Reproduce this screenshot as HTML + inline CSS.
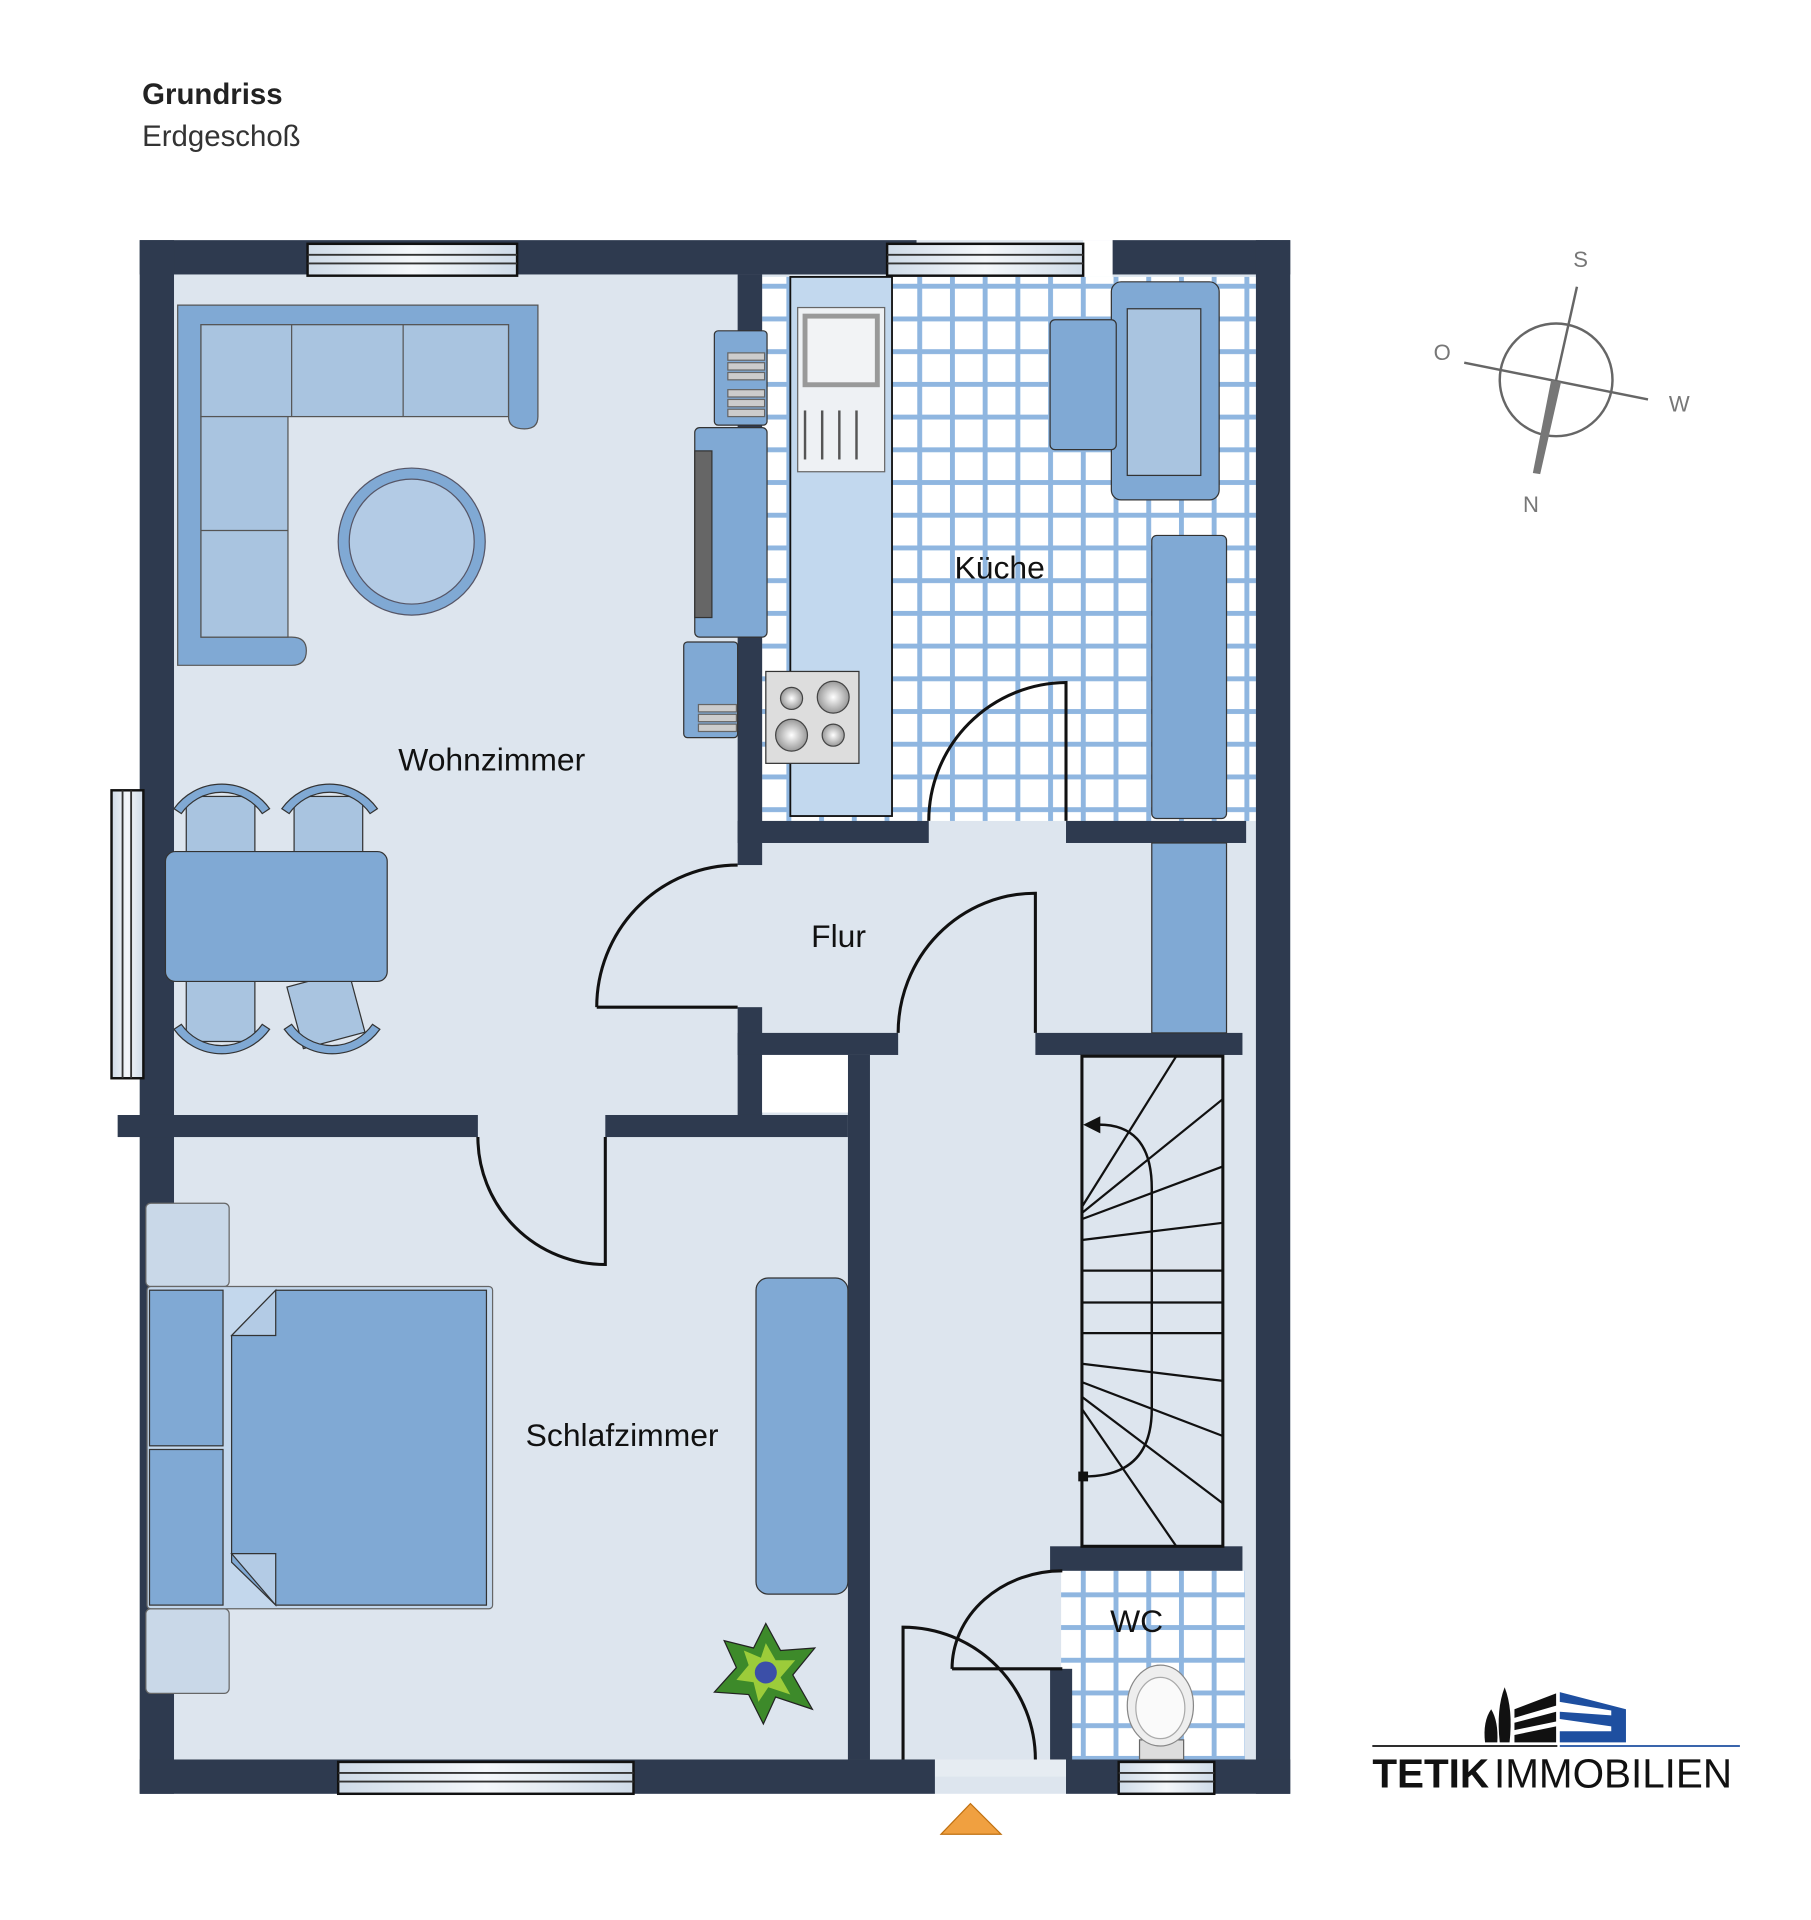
<!DOCTYPE html>
<html><head><meta charset="utf-8"><style>
html,body{margin:0;padding:0;background:#fff;}
svg{display:block;}
text{font-family:"Liberation Sans",sans-serif;}
</style></head><body>
<svg width="1811" height="1920" viewBox="0 0 1478 1567" xmlns="http://www.w3.org/2000/svg">
<defs>
<pattern id="tile" x="1" y="18" width="26.7" height="26.7" patternUnits="userSpaceOnUse">
<rect width="26.7" height="26.7" fill="#fff"/>
<rect x="0" y="0" width="4" height="26.7" fill="#8fb6e0"/>
<rect x="0" y="0" width="26.7" height="4" fill="#8fb6e0"/>
</pattern>
<linearGradient id="win" x1="0" y1="0" x2="1" y2="0"><stop offset="0" stop-color="#cfdbe8"/><stop offset="0.5" stop-color="#f4f7fa"/><stop offset="1" stop-color="#cfdbe8"/></linearGradient>
<radialGradient id="hob"><stop offset="0" stop-color="#fff"/><stop offset="1" stop-color="#999"/></radialGradient>
</defs>
<text x="116" y="85" font-size="24" font-weight="bold" fill="#222">Grundriss</text>
<text x="116" y="119" font-size="24" fill="#333">Erdgeschoß</text>

<rect x="114" y="196" width="939" height="1268" fill="#dde5ee"/>
<rect x="622" y="226" width="403" height="444" fill="url(#tile)"/>
<rect x="866" y="1282" width="150" height="154" fill="url(#tile)"/>
<rect x="763" y="1436" width="107" height="14" fill="#e6ecf2"/>

<g fill="#2e3a4f">
<rect x="114" y="196" width="634" height="28"/>
<rect x="908" y="196" width="145" height="28"/>
<rect x="114" y="196" width="28" height="1268"/>
<rect x="1025" y="196" width="28" height="1268"/>
<rect x="114" y="1436" width="649" height="28"/>
<rect x="870" y="1436" width="183" height="28"/>
<rect x="602" y="224" width="20" height="482"/>
<rect x="602" y="822" width="20" height="88"/>
<rect x="602" y="670" width="156" height="18"/>
<rect x="870" y="670" width="147" height="18"/>
<rect x="602" y="843" width="131" height="18"/>
<rect x="845" y="843" width="169" height="18"/>
<rect x="692" y="861" width="18" height="575"/>
<rect x="96" y="910" width="294" height="18"/>
<rect x="494" y="910" width="198" height="18"/>
<rect x="857" y="1262" width="157" height="20"/>
<rect x="857" y="1362" width="18" height="74"/>
</g>
<rect x="622" y="861" width="70" height="47" fill="#fff"/>
<rect x="884" y="196" width="24" height="30" fill="#fff"/>

<g stroke="#111" stroke-width="2" fill="url(#win)">
<rect x="251" y="199" width="171" height="26"/>
<rect x="724" y="199" width="160" height="26"/>
<rect x="91" y="645" width="26" height="235"/>
<rect x="276" y="1438" width="241" height="26"/>
<rect x="913" y="1438" width="78" height="26"/>
</g>
<g stroke="#333" stroke-width="1.5">
<line x1="251" y1="208" x2="422" y2="208"/><line x1="251" y1="215" x2="422" y2="215"/>
<line x1="724" y1="208" x2="884" y2="208"/><line x1="724" y1="215" x2="884" y2="215"/>
<line x1="100" y1="645" x2="100" y2="880"/><line x1="107" y1="645" x2="107" y2="880"/>
<line x1="276" y1="1447" x2="517" y2="1447"/><line x1="276" y1="1454" x2="517" y2="1454"/>
<line x1="913" y1="1447" x2="991" y2="1447"/><line x1="913" y1="1454" x2="991" y2="1454"/>
</g>

<g stroke="#555" stroke-width="1">
<path d="M145 249 H439 V340 Q439 350 428 350 Q415 350 415 340 V265 H164 V520 H238 Q250 520 250 531 Q250 543 238 543 H145 Z" fill="#80a9d4"/>
<rect x="164" y="265" width="251" height="75" fill="#a9c4e0"/>
<rect x="164" y="340" width="71" height="180" fill="#a9c4e0"/>
<line x1="238" y1="265" x2="238" y2="340"/><line x1="329" y1="265" x2="329" y2="340"/>
<line x1="164" y1="433" x2="235" y2="433"/>
</g>
<circle cx="336" cy="442" r="60" fill="#80a9d4" stroke="#556" stroke-width="1"/>
<circle cx="336" cy="442" r="51" fill="#b3cbe5" stroke="#556" stroke-width="1"/>

<g stroke="#333" stroke-width="1">
<rect x="152" y="650" width="56" height="48" fill="#a9c4e0"/>
<rect x="240" y="650" width="56" height="48" fill="#a9c4e0"/>
<rect x="152" y="798" width="56" height="52" fill="#a9c4e0"/>
<rect x="240" y="798" width="52" height="52" fill="#a9c4e0" transform="rotate(-15 266 824)"/>
<path d="M142 660 A48 48 0 0 1 220 660 L214 664 A40 40 0 0 0 148 664 Z" fill="#80a9d4"/>
<path d="M230 660 A48 48 0 0 1 308 660 L302 664 A40 40 0 0 0 236 664 Z" fill="#80a9d4"/>
<path d="M142 840 A48 48 0 0 0 220 840 L214 836 A40 40 0 0 1 148 836 Z" fill="#80a9d4"/>
<path d="M232 840 A48 48 0 0 0 310 840 L304 836 A40 40 0 0 1 238 836 Z" fill="#80a9d4"/>
<rect x="135" y="695" width="181" height="106" rx="8" fill="#80a9d4"/>
</g>

<g stroke="#333" stroke-width="1">
<rect x="583" y="270" width="43" height="77" rx="3" fill="#80a9d4"/>
<rect x="567" y="349" width="59" height="171" rx="4" fill="#80a9d4"/>
<rect x="567" y="368" width="14" height="136" fill="#666"/>
<rect x="558" y="524" width="44" height="78" rx="3" fill="#80a9d4"/>
</g>
<g fill="#ccc" stroke="#666" stroke-width="1">
<rect x="594" y="288" width="30" height="6"/><rect x="594" y="296" width="30" height="6"/><rect x="594" y="304" width="30" height="6"/>
<rect x="594" y="318" width="30" height="6"/><rect x="594" y="326" width="30" height="6"/><rect x="594" y="334" width="30" height="6"/>
<rect x="570" y="575" width="31" height="6"/><rect x="570" y="583" width="31" height="6"/><rect x="570" y="591" width="31" height="6"/>
</g>

<rect x="645" y="226" width="83" height="440" fill="#c2d8ee" stroke="#111" stroke-width="1.5"/>
<rect x="651" y="251" width="71" height="134" fill="#eef1f4" stroke="#666"/>
<rect x="655" y="256" width="63" height="60" fill="#999"/>
<rect x="659" y="260" width="55" height="52" fill="#f2f3f5"/>
<g stroke="#555" stroke-width="2"><line x1="657" y1="335" x2="657" y2="375"/><line x1="671" y1="335" x2="671" y2="375"/><line x1="685" y1="335" x2="685" y2="375"/><line x1="699" y1="335" x2="699" y2="375"/></g>
<rect x="625" y="548" width="76" height="75" fill="#ddd" stroke="#333"/>
<circle cx="646" cy="570" r="9" fill="url(#hob)" stroke="#444"/>
<circle cx="680" cy="569" r="13" fill="url(#hob)" stroke="#444"/>
<circle cx="646" cy="600" r="13" fill="url(#hob)" stroke="#444"/>
<circle cx="680" cy="600" r="9" fill="url(#hob)" stroke="#444"/>
<g stroke="#333" stroke-width="1">
<rect x="907" y="230" width="88" height="178" rx="8" fill="#80a9d4"/>
<rect x="920" y="252" width="60" height="136" fill="#a9c4e0"/>
<rect x="857" y="261" width="54" height="106" rx="4" fill="#80a9d4"/>
<rect x="940" y="437" width="61" height="231" rx="4" fill="#80a9d4"/>
<rect x="940" y="688" width="61" height="155" fill="#80a9d4"/>
</g>

<g stroke="#666" stroke-width="1">
<rect x="119" y="982" width="68" height="68" rx="4" fill="#c9d8e8"/>
<rect x="119" y="1313" width="68" height="69" rx="4" fill="#c9d8e8"/>
<rect x="120" y="1050" width="282" height="263" rx="3" fill="#c3d7ec"/>
<rect x="122" y="1053" width="60" height="127" fill="#80a9d4" stroke="#333"/>
<rect x="122" y="1183" width="60" height="127" fill="#80a9d4" stroke="#333"/>
<path d="M225 1053 H397 V1310 H225 L189 1275 V1090 Z" fill="#80a9d4" stroke="#333"/>
<path d="M189 1090 L225 1053 V1090 Z" fill="#b3cbe5" stroke="#333"/>
<path d="M189 1268 L225 1310 V1268 Z" fill="#b3cbe5" stroke="#333"/>
<rect x="617" y="1043" width="75" height="258" rx="10" fill="#80a9d4" stroke="#333"/>
</g>
<g transform="translate(625 1365)">
<path d="M0 -40 L12 -18 L40 -20 L22 2 L38 30 L8 20 L-2 42 L-14 18 L-42 16 L-24 -4 L-34 -26 L-10 -20 Z" fill="#3d8a2a" stroke="#222"/>
<path d="M0 -24 L8 -10 L24 -10 L12 4 L20 18 L2 12 L-6 24 L-10 8 L-24 6 L-14 -6 L-18 -18 L-4 -12 Z" fill="#9ccc3a"/>
<circle r="9" fill="#3b4fa8"/>
</g>

<rect x="883" y="862" width="115" height="400" fill="none" stroke="#111" stroke-width="2.5"/>
<g stroke="#111" stroke-width="1.8">
<line x1="883" y1="985" x2="960" y2="862"/>
<line x1="883" y1="990" x2="998" y2="897"/>
<line x1="883" y1="995" x2="998" y2="952"/>
<line x1="883" y1="1012" x2="998" y2="998"/>
<line x1="883" y1="1037" x2="998" y2="1037"/>
<line x1="883" y1="1063" x2="998" y2="1063"/>
<line x1="883" y1="1088" x2="998" y2="1088"/>
<line x1="883" y1="1113" x2="998" y2="1127"/>
<line x1="883" y1="1128" x2="998" y2="1172"/>
<line x1="883" y1="1140" x2="998" y2="1227"/>
<line x1="883" y1="1150" x2="960" y2="1262"/>
</g>
<path d="M892 918 Q940 915 940 970 V1150 Q940 1205 885 1205" fill="none" stroke="#111" stroke-width="2"/>
<path d="M884 918 L898 911 L898 925 Z" fill="#111"/>
<rect x="880" y="1201" width="8" height="8" fill="#111"/>

<rect x="930" y="1420" width="36" height="16" fill="#ddd" stroke="#666"/>
<ellipse cx="947" cy="1392" rx="27" ry="33" fill="#eee" stroke="#888"/>
<ellipse cx="947" cy="1394" rx="20" ry="25" fill="#fafafa" stroke="#aaa"/>

<g fill="none" stroke="#111" stroke-width="2.5">
<path d="M870 670 V557 A113 113 0 0 0 758 670"/>
<path d="M487 822 H602 M487 822 A115 116 0 0 1 602 706"/>
<path d="M845 843 V729 A112 114 0 0 0 733 843"/>
<path d="M494 928 V1032 A104 104 0 0 1 390 928"/>
<path d="M737 1436 V1328 A108 108 0 0 1 845 1436"/>
<path d="M777 1362 H867 M777 1362 A90 80 0 0 1 867 1282"/>
</g>
<path d="M768 1497 L792 1472 L817 1497 Z" fill="#f0a040" stroke="#c07010"/>

<g font-size="26" fill="#111">
<text x="325" y="629">Wohnzimmer</text>
<text x="779" y="472">Küche</text>
<text x="662" y="773">Flur</text>
<text x="429" y="1180">Schlafzimmer</text>
<text x="906" y="1332">WC</text>
</g>

<circle cx="1270" cy="310" r="46" fill="none" stroke="#666" stroke-width="2"/>
<line x1="1195" y1="296" x2="1345" y2="326" stroke="#666" stroke-width="2"/>
<line x1="1287" y1="234" x2="1270" y2="310" stroke="#666" stroke-width="2"/>
<path d="M1266 310 L1274 312 L1257 387 L1251 386 Z" fill="#777"/>
<g font-size="18" fill="#777">
<text x="1284" y="218">S</text><text x="1170" y="294">O</text><text x="1362" y="336">W</text><text x="1243" y="418">N</text>
</g>

<path d="M1212 1422 Q1210 1405 1217 1395 Q1223 1405 1222 1422 Z" fill="#111"/>
<path d="M1224 1422 Q1221 1395 1228 1377 Q1235 1395 1232 1422 Z" fill="#111"/>
<path d="M1236 1395 L1270 1382 V1392 L1236 1402 Z M1236 1406 L1270 1397 V1405 L1236 1412 Z M1236 1416 L1270 1409 V1422 H1236 Z" fill="#111"/>
<path d="M1273 1381 L1327 1395 V1422 H1273 V1413 L1315 1413 V1409 L1273 1403 V1397 L1315 1400 V1396 L1273 1389 Z" fill="#1e4fa0"/>
<line x1="1120" y1="1425" x2="1271" y2="1425" stroke="#111" stroke-width="1.5"/>
<line x1="1273" y1="1425" x2="1420" y2="1425" stroke="#1e4fa0" stroke-width="1.5"/>
<text x="1120" y="1459" font-size="33" fill="#111"><tspan font-weight="bold">TETIK</tspan><tspan dx="4">IMMOBILIEN</tspan></text>
</svg>
</body></html>
